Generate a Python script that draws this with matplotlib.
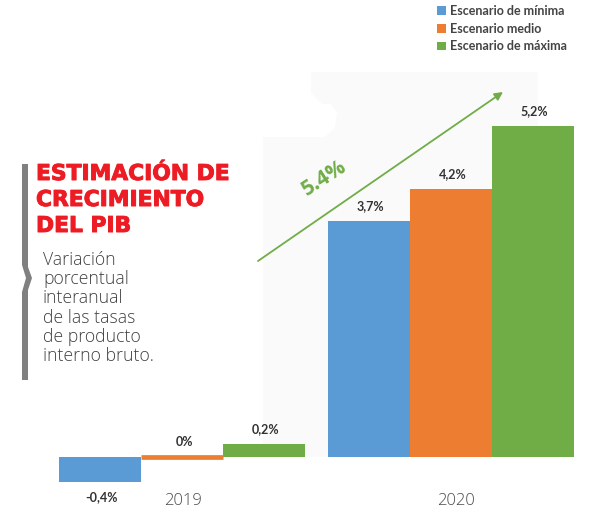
import matplotlib
matplotlib.use('Agg')

import matplotlib.pyplot as plt
import matplotlib.patheffects as pe
import numpy as np
from matplotlib.patches import Polygon

W, H = 600, 514

years = ['2019', '2020']
scenarios = ['Escenario de mínima', 'Escenario medio', 'Escenario de máxima']
minima = [-0.4, 3.7]
medio = [0.0, 4.2]
maxima = [0.2, 5.2]
minima_labels = ['-0,4%', '3,7%']
medio_labels = ['0%', '4,2%']
maxima_labels = ['0,2%', '5,2%']
title_lines = ['ESTIMACIÓN DE', 'CRECIMIENTO', 'DEL PIB']
body_lines = ['Variación', 'porcentual', 'interanual', 'de las tasas', 'de producto', 'interno bruto.']

colors = ['#5B9BD5', '#ED7D31', '#70AD47']
green = '#70AD47'

fig = plt.figure(figsize=(W / 100, H / 100), dpi=100)
ax = fig.add_axes([0, 0, 1, 1])
ax.patch.set_alpha(0)

# pixel scale of the chart, measured on the reference
px_group = 268.5
px_unit = 63.7
center0 = 182
base_y = 457
bar_w = 82 / px_group

ax.set_xlim(-center0 / px_group, (W - center0) / px_group)
ax.set_ylim((base_y - H) / px_unit, base_y / px_unit)
ax.axis('off')


def fx(x):
    return x / W


def fy(y):
    return 1 - y / H


# faint panel behind the bars
panel = [(263, 457), (328, 457), (328, 300), (538, 300), (538, 72), (311, 72), (311, 93),
         (322, 104), (331, 104), (337, 112), (335, 128), (325, 137), (263, 137)]
fig.add_artist(Polygon([(fx(x), fy(y)) for x, y in panel], closed=True, transform=fig.transFigure,
                       facecolor='#FAFAFA', edgecolor='none', zorder=-1))

# grey bracket
bracket = [(22, 164), (28, 164), (28, 267), (32, 278), (28, 290), (28, 380), (22, 380), (22, 292),
           (26, 278), (22, 265)]
fig.add_artist(Polygon([(fx(x), fy(y)) for x, y in bracket], closed=True, transform=fig.transFigure,
                       facecolor='#808080', edgecolor='none'))

x = np.arange(len(years))
series = [minima, medio, maxima]
labels = [minima_labels, medio_labels, maxima_labels]
for i, vals in enumerate(series):
    bars = ax.bar(x + (i - 1) * bar_w, vals, bar_w, color=colors[i], label=scenarios[i], zorder=2)
    for rect, val, lab in zip(bars, vals, labels[i]):
        if val == 0:
            # zero height bar still shows as a thin stripe
            ax.plot([rect.get_x(), rect.get_x() + bar_w], [0, 0], color=colors[i], lw=3.4,
                    solid_capstyle='butt', zorder=3)
        off = -15 if val < 0 else 15
        ax.annotate(lab, (rect.get_x() + bar_w / 2, val), textcoords='offset pixels', xytext=(2, off),
                    ha='center', va='center', fontsize=9, fontweight='bold', family='Lato', color='#333333')

leg = ax.legend(loc='upper left', bbox_to_anchor=(fx(432), fy(0)), frameon=False,
                handlelength=0.7, handleheight=0.7, handletextpad=0.3, labelspacing=0.45,
                borderpad=0.4, borderaxespad=0, prop={'family': 'Lato', 'size': 9, 'weight': 'bold'},
                labelcolor='#444444')

for lab, px in zip(years, [183, 456]):
    ax.text(fx(px), fy(501), lab, transform=ax.transAxes, ha='center', va='center', fontsize=12,
            family='Open Sans', color='#4A4A4A', fontweight='light')

# arrow and its rate
ax.annotate('', xy=(fx(503), fy(92)), xytext=(fx(258), fy(261)), xycoords='axes fraction',
            textcoords='axes fraction',
            arrowprops=dict(arrowstyle='-|>', color=green, lw=1.3, mutation_scale=12, shrinkA=0, shrinkB=0),
            zorder=4)
ax.text(fx(324), fy(178), '5.4%', transform=ax.transAxes, ha='center', va='center', rotation=33,
        fontsize=15, fontweight='bold', family='Open Sans', color=green, rotation_mode='anchor')

for line, y in zip(title_lines, [174, 200, 226]):
    ax.text(fx(36), fy(y), line, transform=ax.transAxes, ha='left', va='center', fontsize=15.7,
            fontweight='bold', family='DejaVu Sans', color='#ED1C24',
            path_effects=[pe.withStroke(linewidth=0.7, foreground='#ED1C24')])

for line, y in zip(body_lines, [260, 279, 298, 318, 337, 356]):
    ax.text(fx(43), fy(y), line, transform=ax.transAxes, ha='left', va='center', fontsize=12.7,
            family='Open Sans', fontweight='light', color='#404040')

fig.savefig('out.png', dpi=100)
